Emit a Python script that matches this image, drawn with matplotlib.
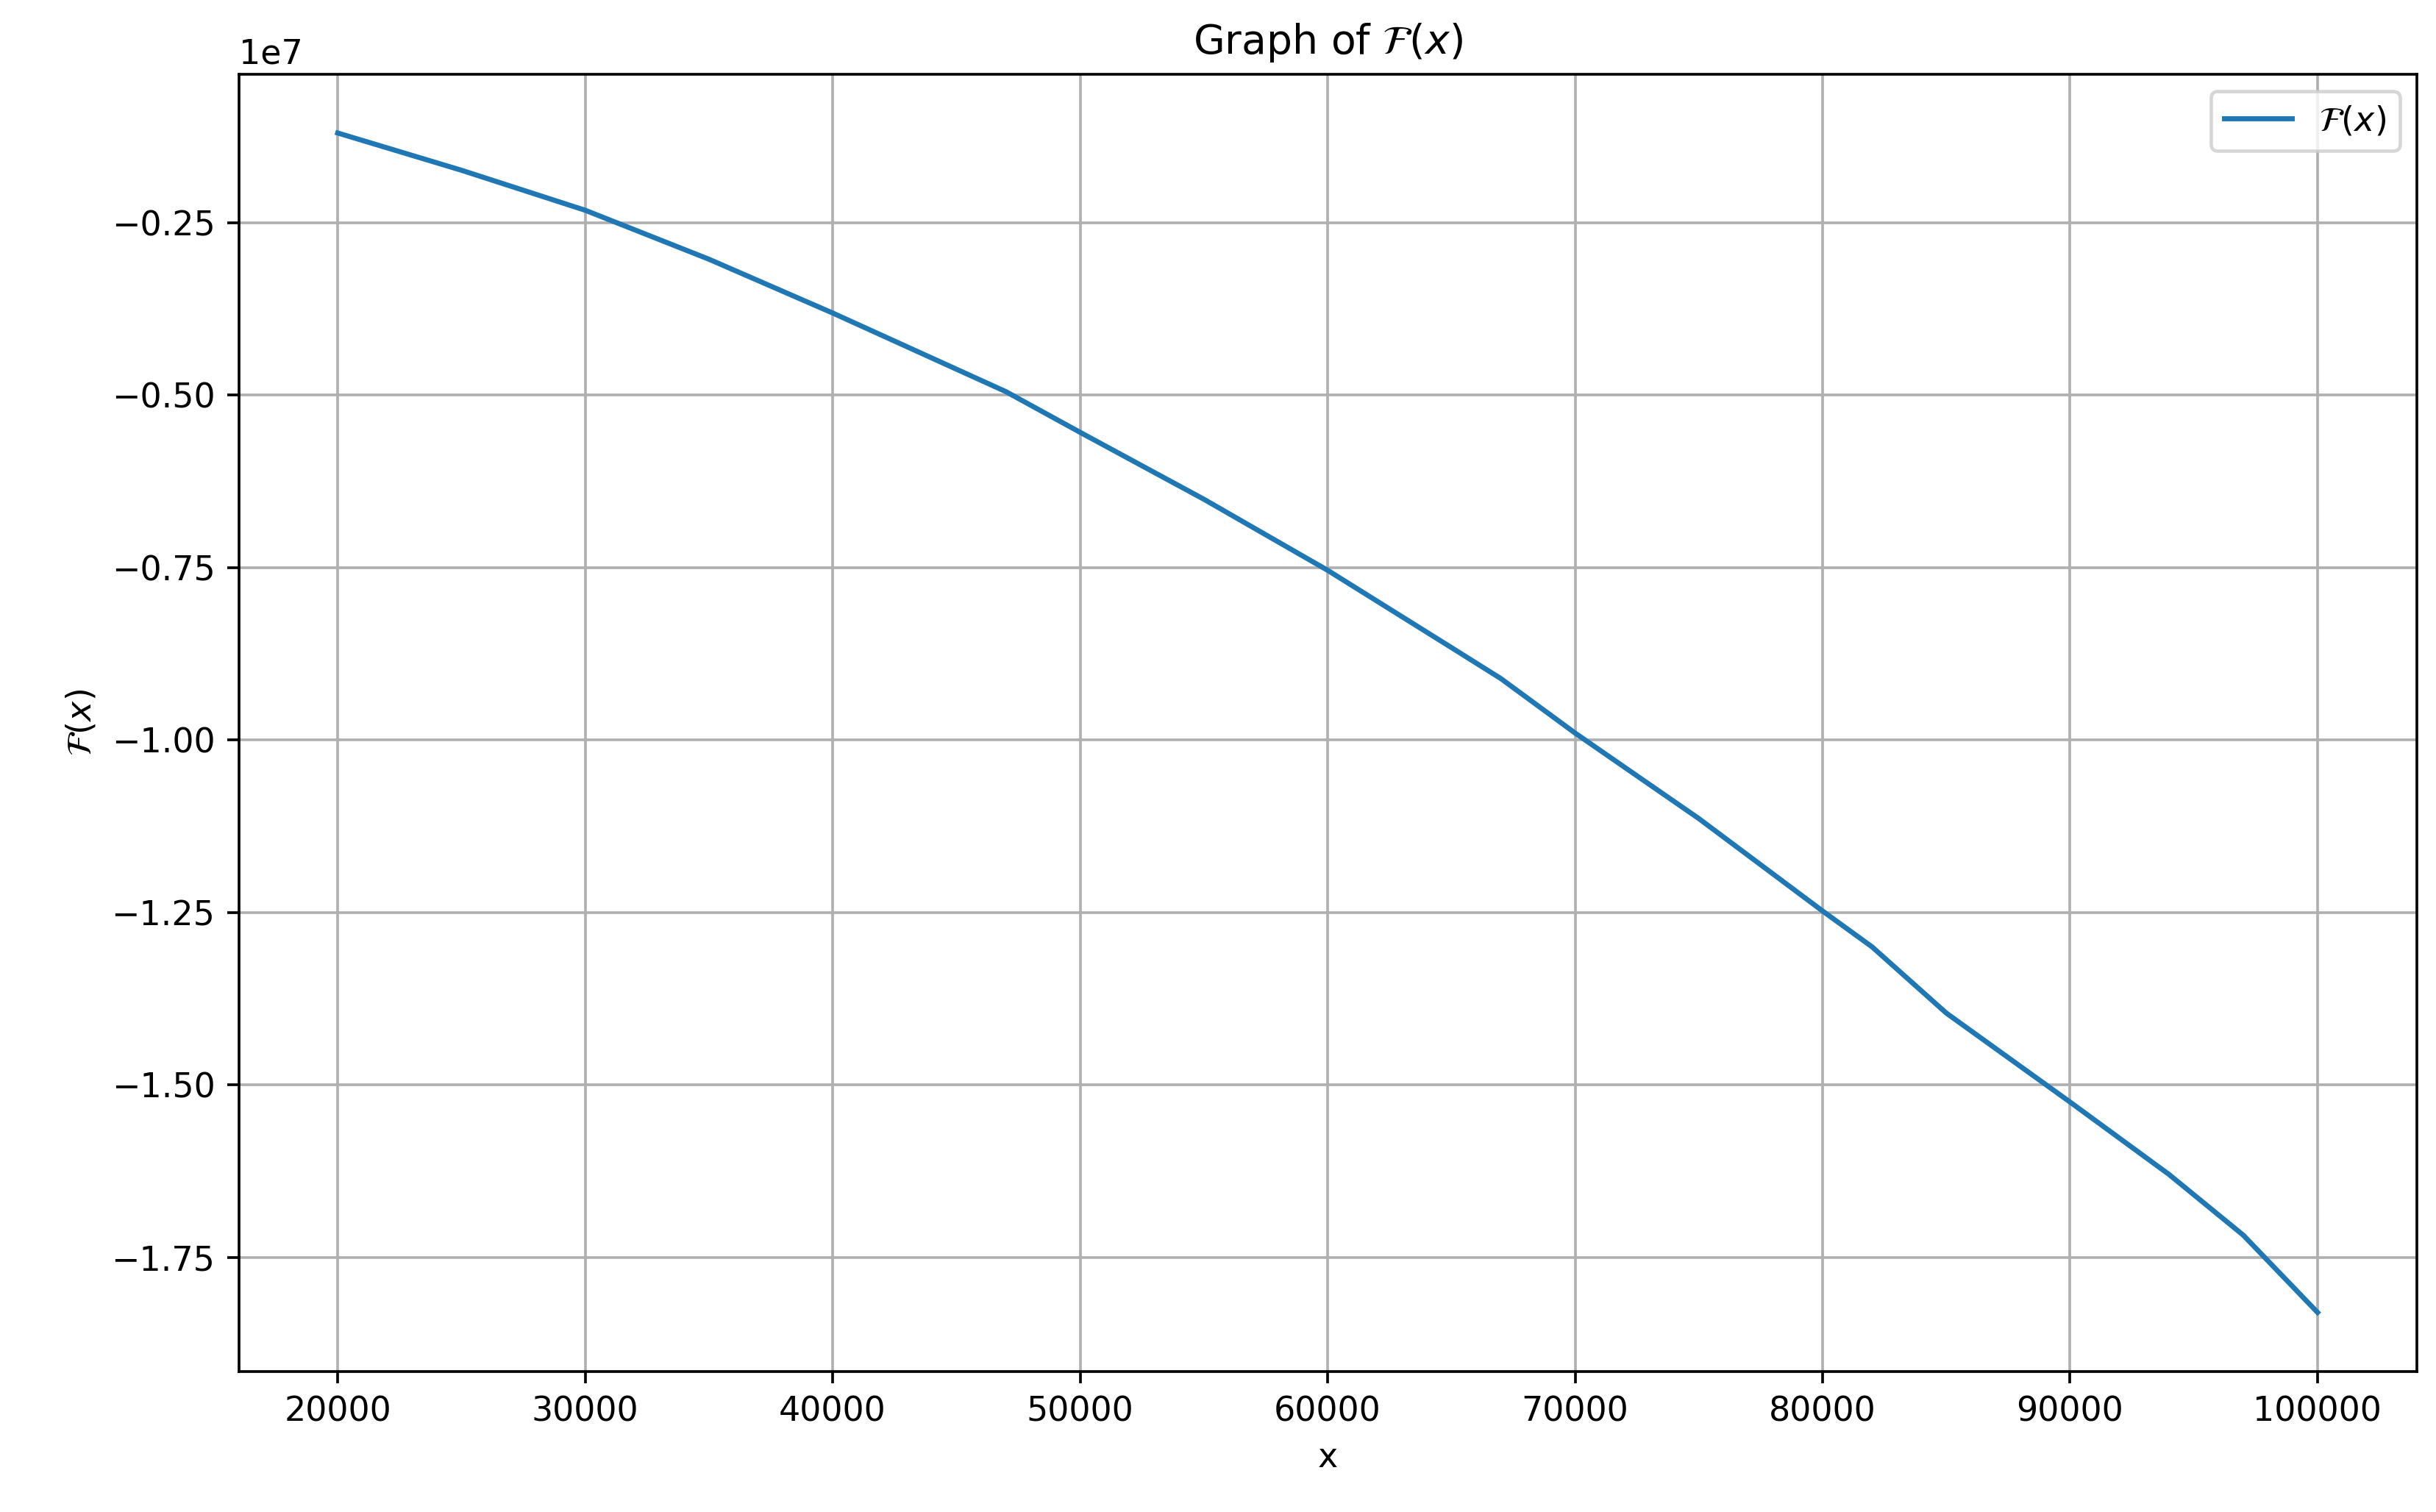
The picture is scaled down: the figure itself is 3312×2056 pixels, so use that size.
import matplotlib
matplotlib.use("Agg")
import matplotlib.pyplot as plt

# values (y in units of 1e7)
x_vals = [20000, 25000, 30000, 35000, 40000, 47000, 50000, 55000, 60000, 65000, 67000, 70000,
          75000, 80000, 82000, 85000, 90000, 94000, 97000, 100000]
y_vals = [-0.120, -0.174, -0.232, -0.303, -0.381, -0.495, -0.554, -0.651, -0.754, -0.866, -0.911, -0.990,
          -1.114, -1.248, -1.300, -1.396, -1.525, -1.630, -1.718, -1.830]
y_vals = [v * 1e7 for v in y_vals]

fig, ax = plt.subplots(figsize=(10, 6.208), dpi=331.2)
ax.plot(x_vals, y_vals, label=r'$\mathcal{F}(x)$')
ax.set_title(r'Graph of $\mathcal{F}(x)$')
ax.set_xlabel('x')
ax.set_ylabel(r'$\mathcal{F}(x)$')
ax.grid(True)
ax.legend()
fig.subplots_adjust(left=0.098, right=0.992, top=0.951, bottom=0.093)
fig.savefig('out.png')
